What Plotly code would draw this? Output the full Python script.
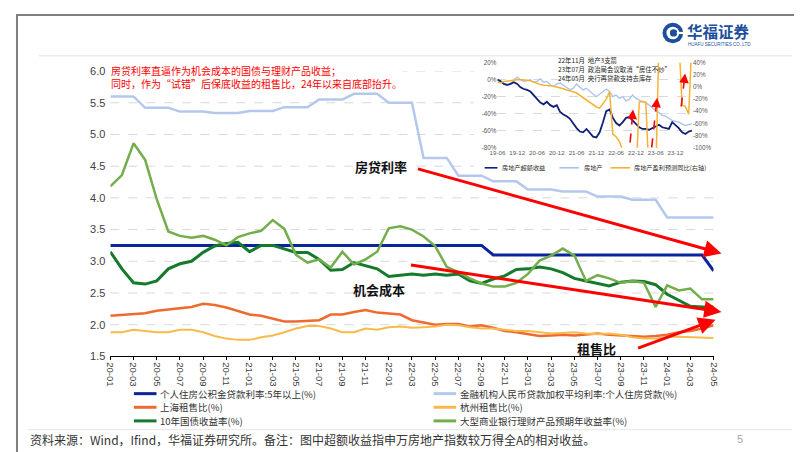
import plotly.graph_objects as go

W, H = 802, 452


def px(x):
    return x / W


def py(y):
    return 1 - y / H


# ---------------- main chart data ----------------
months = ["20-01", "20-02", "20-03", "20-04", "20-05", "20-06", "20-07", "20-08", "20-09", "20-10", "20-11", "20-12",
          "21-01", "21-02", "21-03", "21-04", "21-05", "21-06", "21-07", "21-08", "21-09", "21-10", "21-11", "21-12",
          "22-01", "22-02", "22-03", "22-04", "22-05", "22-06", "22-07", "22-08", "22-09", "22-10", "22-11", "22-12",
          "23-01", "23-02", "23-03", "23-04", "23-05", "23-06", "23-07", "23-08", "23-09", "23-10", "23-11", "23-12",
          "24-01", "24-02", "24-03", "24-04", "24-05"]
month_ticks = ["20-01", "20-03", "20-05", "20-07", "20-09", "20-11", "21-01", "21-03", "21-05", "21-07", "21-09",
               "21-11", "22-01", "22-03", "22-05", "22-07", "22-09", "22-11", "23-01", "23-03", "23-05", "23-07",
               "23-09", "23-11", "24-01", "24-03", "24-05"]
y_ticks = [1.5, 2.0, 2.5, 3.0, 3.5, 4.0, 4.5, 5.0, 5.5, 6.0]

gjj_rate = [3.25, 3.25, 3.25, 3.25, 3.25, 3.25, 3.25, 3.25, 3.25, 3.25, 3.25, 3.25,
            3.25, 3.25, 3.25, 3.25, 3.25, 3.25, 3.25, 3.25, 3.25, 3.25, 3.25, 3.25,
            3.25, 3.25, 3.25, 3.25, 3.25, 3.25, 3.25, 3.25, 3.25, 3.10, 3.10, 3.10,
            3.10, 3.10, 3.10, 3.10, 3.10, 3.10, 3.10, 3.10, 3.10, 3.10, 3.10, 3.10,
            3.10, 3.10, 3.10, 3.10, 2.85]
loan_rate = [5.60, 5.60, 5.60, 5.42, 5.42, 5.42, 5.36, 5.36, 5.36, 5.34, 5.34, 5.34,
             5.37, 5.37, 5.37, 5.43, 5.43, 5.43, 5.55, 5.55, 5.55, 5.64, 5.64, 5.64,
             5.50, 5.50, 5.50, 4.63, 4.63, 4.63, 4.35, 4.35, 4.35, 4.26, 4.26, 4.26,
             4.13, 4.13, 4.13, 4.10, 4.10, 4.10, 4.02, 4.02, 4.02, 3.97, 3.97, 3.97,
             3.69, 3.69, 3.69, 3.69, 3.69]
sh_ratio = [2.14, 2.15, 2.16, 2.18, 2.22, 2.24, 2.26, 2.28, 2.33, 2.31, 2.27, 2.22,
            2.16, 2.14, 2.09, 2.05, 2.05, 2.06, 2.07, 2.16, 2.16, 2.20, 2.23, 2.19,
            2.18, 2.16, 2.07, 2.04, 2.00, 2.01, 2.01, 1.97, 1.99, 1.95, 1.90, 1.88,
            1.85, 1.82, 1.83, 1.84, 1.83, 1.85, 1.86, 1.84, 1.83, 1.81, 1.81, 1.82,
            1.84, 1.88, 1.90, 1.94, 1.99]
hz_ratio = [1.88, 1.88, 1.92, 1.90, 1.88, 1.88, 1.92, 1.92, 1.88, 1.82, 1.78, 1.76,
            1.76, 1.80, 1.83, 1.88, 1.94, 1.98, 1.98, 1.94, 1.88, 1.88, 1.94, 1.92,
            1.96, 1.97, 1.95, 1.96, 1.97, 2.00, 1.99, 1.96, 1.94, 1.94, 1.92, 1.90,
            1.90, 1.88, 1.86, 1.87, 1.88, 1.86, 1.85, 1.86, 1.84, 1.80, 1.78, 1.78,
            1.81, 1.81, 1.80, 1.79, 1.79]
cgb10 = [3.15, 2.88, 2.66, 2.64, 2.69, 2.88, 2.96, 3.00, 3.14, 3.24, 3.28, 3.30,
         3.15, 3.25, 3.25, 3.20, 3.14, 3.14, 3.03, 2.86, 2.87, 2.98, 2.93, 2.88,
         2.76, 2.78, 2.80, 2.78, 2.80, 2.78, 2.80, 2.69, 2.65, 2.72, 2.77, 2.87,
         2.88, 2.91, 2.88, 2.82, 2.73, 2.69, 2.65, 2.61, 2.67, 2.69, 2.68, 2.63,
         2.48, 2.38, 2.29, 2.28, 2.28]
wmp_yield = [4.18, 4.36, 4.86, 4.60, 3.98, 3.47, 3.40, 3.37, 3.40, 3.34, 3.25, 3.38,
             3.44, 3.48, 3.65, 3.51, 3.10, 2.98, 3.03, 2.90, 3.15, 2.95, 3.03, 3.15,
             3.52, 3.55, 3.50, 3.39, 3.24, 2.91, 2.83, 2.73, 2.65, 2.60, 2.60, 2.66,
             2.80, 3.01, 3.09, 3.20, 3.09, 2.69, 2.78, 2.73, 2.66, 2.69, 2.66, 2.28,
             2.62, 2.54, 2.57, 2.40, 2.40]

series_names = ["个人住房公积金贷款利率:5年以上(%)", "金融机构人民币贷款加权平均利率:个人住房贷款(%)",
                "上海租售比(%)", "杭州租售比(%)", "10年国债收益率(%)", "大型商业银行理财产品预期年收益率(%)"]
series_values = [gjj_rate, loan_rate, sh_ratio, hz_ratio, cgb10, wmp_yield]
series_colors = ["#0A249C", "#B4C7EC", "#EE6A2F", "#F8BA4A", "#157A2C", "#74AE4C"]
series_widths = [3, 2.5, 2.5, 2, 3, 2.5]

# ---------------- inset chart data ----------------
inset_months = ["19-06", "19-07", "19-08", "19-09", "19-10", "19-11", "19-12",
                "20-01", "20-02", "20-03", "20-04", "20-05", "20-06", "20-07", "20-08", "20-09", "20-10", "20-11", "20-12",
                "21-01", "21-02", "21-03", "21-04", "21-05", "21-06", "21-07", "21-08", "21-09", "21-10", "21-11", "21-12",
                "22-01", "22-02", "22-03", "22-04", "22-05", "22-06", "22-07", "22-08", "22-09", "22-10", "22-11", "22-12",
                "23-01", "23-02", "23-03", "23-04", "23-05", "23-06", "23-07", "23-08", "23-09", "23-10", "23-11", "23-12",
                "24-01", "24-02", "24-03", "24-04", "24-05"]
inset_ticks = ["19-06", "19-12", "20-06", "20-12", "21-06", "21-12", "22-06", "22-12", "23-06", "23-12"]
inset_excess = [0, -2, -5, -6, -5, -3, -5, -9, -11, -12,
                -14, -18, -23, -27, -29, -26, -30, -32, -30, -38,
                -41, -43, -46, -52, -57, -61, -62, -58, -63, -67,
                -68, -62, -50, -37, -35, -45, -51, -54, -50, -45,
                -44, -48, -52, -56, -58, -58, -59, -57, -55, -53,
                -56, -57, -58, -50, -53, -57, -62, -64, -61, -60]
inset_realestate = [0, -3, -6, -7, -5, 0, 3, 0, -2, -1,
                    0, -3, -2, 1, -3, -2, -6, -8, -5, -4,
                    -7, -10, -12, -10, -5, -9, -12, -10, -14, -17,
                    -20, -17, -15, -11, -14, -20, -18, -22, -20, -25,
                    -23, -18, -22, -24, -26, -27, -30, -33, -35, -38,
                    -42, -43, -46, -48, -49, -50, -52, -54, -53, -52]
inset_profit = [8, 7, 9, 10, 11, 11, 12, 12, 12, 11,
                10, 8, 5, 4, 3, 3, 2, 1, 0, -2,
                -3, -5, -6, -8, -10, -14, -18, -22, -26, -30,
                -33, -35, -28, -20, -8, -78, -82, -90, -105, -130,
                -150, -150, -150, -25, -24, -25, -150, -150, -150, 80,
                80, 80, 80, 80, 80, 80, -30, -32, -45, 80]
inset_left_ticks = [-80, -60, -40, -20, 0, 20]
inset_left_text = ["-80%", "-60%", "-40%", "-20%", "0%", "20%"]
inset_right_ticks = [-100, -80, -60, -40, -20, 0, 20, 40]
inset_right_text = ["-100%", "-80%", "-60%", "-40%", "-20%", "0%", "20%", "40%"]
inset_names = ["房地产超额收益", "房地产", "房地产盈利预测同比(右轴)"]
inset_colors = ["#0F1F7A", "#A9C1EE", "#F6B232"]
inset_events = ["22年11月  地产3支箭", "23年07月  政治局会议取消“房住不炒”", "24年05月  央行再贷款支持去库存"]

CN = "Noto Sans CJK SC"
NUM = "Liberation Sans, Noto Sans CJK SC"

fig = go.Figure()

for name, vals, col, wd in zip(series_names, series_values, series_colors, series_widths):
    fig.add_trace(go.Scatter(x=months, y=vals, mode="lines", name=name,
                             line=dict(color=col, width=wd), showlegend=False,
                             xaxis="x", yaxis="y", hoverinfo="skip"))

fig.add_trace(go.Scatter(x=inset_months, y=inset_profit, mode="lines", name=inset_names[2],
                         line=dict(color=inset_colors[2], width=1.5), showlegend=False,
                         xaxis="x2", yaxis="y3"))
fig.add_trace(go.Scatter(x=inset_months, y=inset_realestate, mode="lines", name=inset_names[1],
                         line=dict(color=inset_colors[1], width=1.3), showlegend=False,
                         xaxis="x2", yaxis="y2"))
fig.add_trace(go.Scatter(x=inset_months, y=inset_excess, mode="lines", name=inset_names[0],
                         line=dict(color=inset_colors[0], width=1.8), showlegend=False,
                         xaxis="x2", yaxis="y2"))

shapes = []
# main gridlines (dashed)
for v in y_ticks[1:]:
    shapes.append(dict(type="line", xref="paper", yref="y", x0=px(96), x1=px(710), y0=v, y1=v,
                       line=dict(color="#D9D9D9", width=1, dash="dash"), layer="below"))
# white background of inset picture
shapes.append(dict(type="rect", xref="paper", yref="paper", x0=px(466), x1=px(733), y0=py(164), y1=py(40),
                   fillcolor="white", line=dict(width=0), layer="below"))
# page frame and separators
shapes.append(dict(type="rect", xref="paper", yref="paper", x0=px(1), x1=px(801), y0=py(451), y1=py(1),
                   line=dict(color="#7F7F7F", width=2), layer="above"))
shapes.append(dict(type="line", xref="paper", yref="paper", x0=px(23), x1=px(790), y0=py(43), y1=py(43),
                   line=dict(color="#E3E3E3", width=1), layer="above"))
shapes.append(dict(type="line", xref="paper", yref="paper", x0=px(12), x1=px(790), y0=py(427), y1=py(427),
                   line=dict(color="#E6E6E6", width=1), layer="above"))
# logo
shapes.append(dict(type="circle", xref="paper", yref="paper", x0=px(658), x1=px(679), y0=py(30), y1=py(9),
                   fillcolor="#1D4F9E", line=dict(width=0), layer="above"))
shapes.append(dict(type="circle", xref="paper", yref="paper", x0=px(662), x1=px(675), y0=py(26), y1=py(13),
                   fillcolor="white", line=dict(width=0), layer="above"))
shapes.append(dict(type="circle", xref="paper", yref="paper", x0=px(665.5), x1=px(673), y0=py(23.2), y1=py(15.7),
                   fillcolor="#1D4F9E", line=dict(width=0), layer="above"))
shapes.append(dict(type="rect", xref="paper", yref="paper", x0=px(672.5), x1=px(680), y0=py(20.6), y1=py(18.4),
                   fillcolor="white", line=dict(width=0), layer="above"))

# legend samples (main)
leg_pos = [(120, 390), (425, 390), (120, 404), (425, 404), (120, 418), (425, 418)]
annotations = []
for (lx, ly), name, col, wd in zip(leg_pos, series_names, series_colors, series_widths):
    shapes.append(dict(type="line", xref="paper", yref="paper", x0=px(lx), x1=px(lx + 23), y0=py(ly), y1=py(ly),
                       line=dict(color=col, width=3), layer="above"))
    annotations.append(dict(x=px(lx + 26), y=py(ly), xref="paper", yref="paper", text=name, showarrow=False,
                            xanchor="left", yanchor="middle", borderpad=0,
                            font=dict(family=CN, size=9.5, color="#333333")))

# inset legend
inset_leg = [(477, 490, 494), (553, 573, 577), (605, 625, 628)]
for (a, b, t), name, col in zip(inset_leg, inset_names, inset_colors):
    shapes.append(dict(type="line", xref="paper", yref="paper", x0=px(a), x1=px(b), y0=py(158), y1=py(158),
                       line=dict(color=col, width=1.6), layer="above"))
    annotations.append(dict(x=px(t), y=py(158), xref="paper", yref="paper", text=name, showarrow=False,
                            xanchor="left", yanchor="middle", borderpad=0,
                            font=dict(family=CN, size=6.2, color="#333333")))

# inset event notes
for txt, ty in zip(inset_events, [47.3, 56.8, 66.4]):
    annotations.append(dict(x=px(551), y=py(ty), xref="paper", yref="paper", text=txt, showarrow=False,
                            xanchor="left", yanchor="middle", borderpad=0,
                            font=dict(family=CN, size=6.4, color="#222222")))

# inset dashed red arrows
for (x0, y0, x1, y1) in [(625, 132, 628, 98), (647, 137, 652.5, 86), (677, 95, 681, 61)]:
    shapes.append(dict(type="line", xref="paper", yref="paper", x0=px(x0), x1=px(x1), y0=py(y0), y1=py(y1),
                       line=dict(color="#FF0000", width=1.6, dash="dash"), layer="above"))
    annotations.append(dict(x=px(x1), y=py(y1), xref="paper", yref="paper", text="", showarrow=True,
                            ax=(x0 - x1) * 0.2, ay=(y0 - y1) * 0.2, arrowhead=2, arrowsize=1.2, arrowwidth=1.6,
                            arrowcolor="#FF0000"))

# main red arrows
for (tx, ty, hx, hy) in [(413, 161, 718, 246), (406, 259, 718, 306), (633, 343, 712, 314)]:
    annotations.append(dict(x=px(hx), y=py(hy), xref="paper", yref="paper", text="", showarrow=True,
                            ax=tx - hx, ay=ty - hy, arrowhead=2, arrowsize=1.15, arrowwidth=3,
                            arrowcolor="#FF0000"))

# labels in chart
for txt, cx, cy in [("房贷利率", 371, 157), ("机会成本", 369, 283), ("租售比", 591, 344)]:
    annotations.append(dict(x=px(cx), y=py(cy), xref="paper", yref="paper", text="<b>" + txt + "</b>",
                            showarrow=False, xanchor="center", yanchor="middle", borderpad=0,
                            font=dict(family=CN, size=13, color="#111111")))

# red note text at top
annotations.append(dict(x=px(96), y=py(64.5), xref="paper", yref="paper",
                        text="房贷利率直逼作为机会成本的国债与理财产品收益；<br>同时，作为“试错”后保底收益的租售比，24年以来自底部抬升。",
                        showarrow=False, xanchor="left", yanchor="middle", align="left", bgcolor="white",
                        borderpad=0, font=dict(family=CN, size=10, color="#FF0000")))

# logo text
annotations.append(dict(x=px(682), y=py(17), xref="paper", yref="paper", text="<b>华福证券</b>", showarrow=False,
                        xanchor="left", yanchor="middle", borderpad=0,
                        font=dict(family=CN, size=15.5, color="#1D4F9E")))
annotations.append(dict(x=px(683), y=py(31), xref="paper", yref="paper", text="HUAFU SECURITIES CO.,LTD",
                        showarrow=False, xanchor="left", yanchor="middle", borderpad=0,
                        font=dict(family=NUM, size=4.5, color="#1D4F9E")))

# footer
annotations.append(dict(x=px(13), y=py(437), xref="paper", yref="paper",
                        text="资料来源：Wind，Ifind，华福证券研究所。备注：图中超额收益指申万房地产指数较万得全A的相对收益。",
                        showarrow=False, xanchor="left", yanchor="middle", borderpad=0,
                        font=dict(family=CN, size=12, color="#333333")))
annotations.append(dict(x=px(737), y=py(437), xref="paper", yref="paper", text="5", showarrow=False,
                        xanchor="center", yanchor="middle", borderpad=0,
                        font=dict(family=NUM, size=11, color="#A6A6A6")))

fig.update_layout(
    width=W, height=H, margin=dict(l=0, r=0, t=0, b=0),
    paper_bgcolor="white", plot_bgcolor="white", showlegend=False,
    xaxis=dict(domain=[px(96), px(710)], anchor="y", type="category", categoryorder="array",
               categoryarray=months, range=[0, 52], tickmode="array", tickvals=month_ticks,
               tickangle=90, ticks="outside", ticklen=3, tickwidth=1, tickcolor="#000000",
               showline=True, linecolor="#000000", linewidth=1, showgrid=False, zeroline=False,
               tickfont=dict(family=NUM, size=9.5, color="#404040")),
    yaxis=dict(domain=[py(351.7), py(58.6)], anchor="x", range=[1.5, 6.0], tickmode="array",
               tickvals=y_ticks, ticktext=[f"{v:.1f}" for v in y_ticks], showgrid=False,
               zeroline=False, showline=False, ticks="", ticklabelstandoff=4,
               tickfont=dict(family=NUM, size=11, color="#404040")),
    xaxis2=dict(domain=[px(490), px(688)], anchor="y2", type="category", categoryorder="array",
                categoryarray=inset_months, range=[0, 59], tickmode="array", tickvals=inset_ticks,
                tickangle=0, ticks="", showline=False, showgrid=False, zeroline=False,
                tickfont=dict(family=NUM, size=6.2, color="#595959")),
    yaxis2=dict(domain=[py(137.3), py(50)], anchor="x2", range=[-80, 20], tickmode="array",
                tickvals=inset_left_ticks, ticktext=inset_left_text, showgrid=True, gridcolor="#DADADA",
                griddash="dash", gridwidth=1, zeroline=False, showline=False, ticks="",
                tickfont=dict(family=NUM, size=6.3, color="#595959")),
    yaxis3=dict(overlaying="y2", anchor="x2", side="right", range=[-100, 40], tickmode="array",
                tickvals=inset_right_ticks, ticktext=inset_right_text, showgrid=False, zeroline=False,
                showline=False, ticks="", tickfont=dict(family=NUM, size=6.3, color="#595959")),
    shapes=shapes, annotations=annotations,
)

fig.write_html("out.html")
